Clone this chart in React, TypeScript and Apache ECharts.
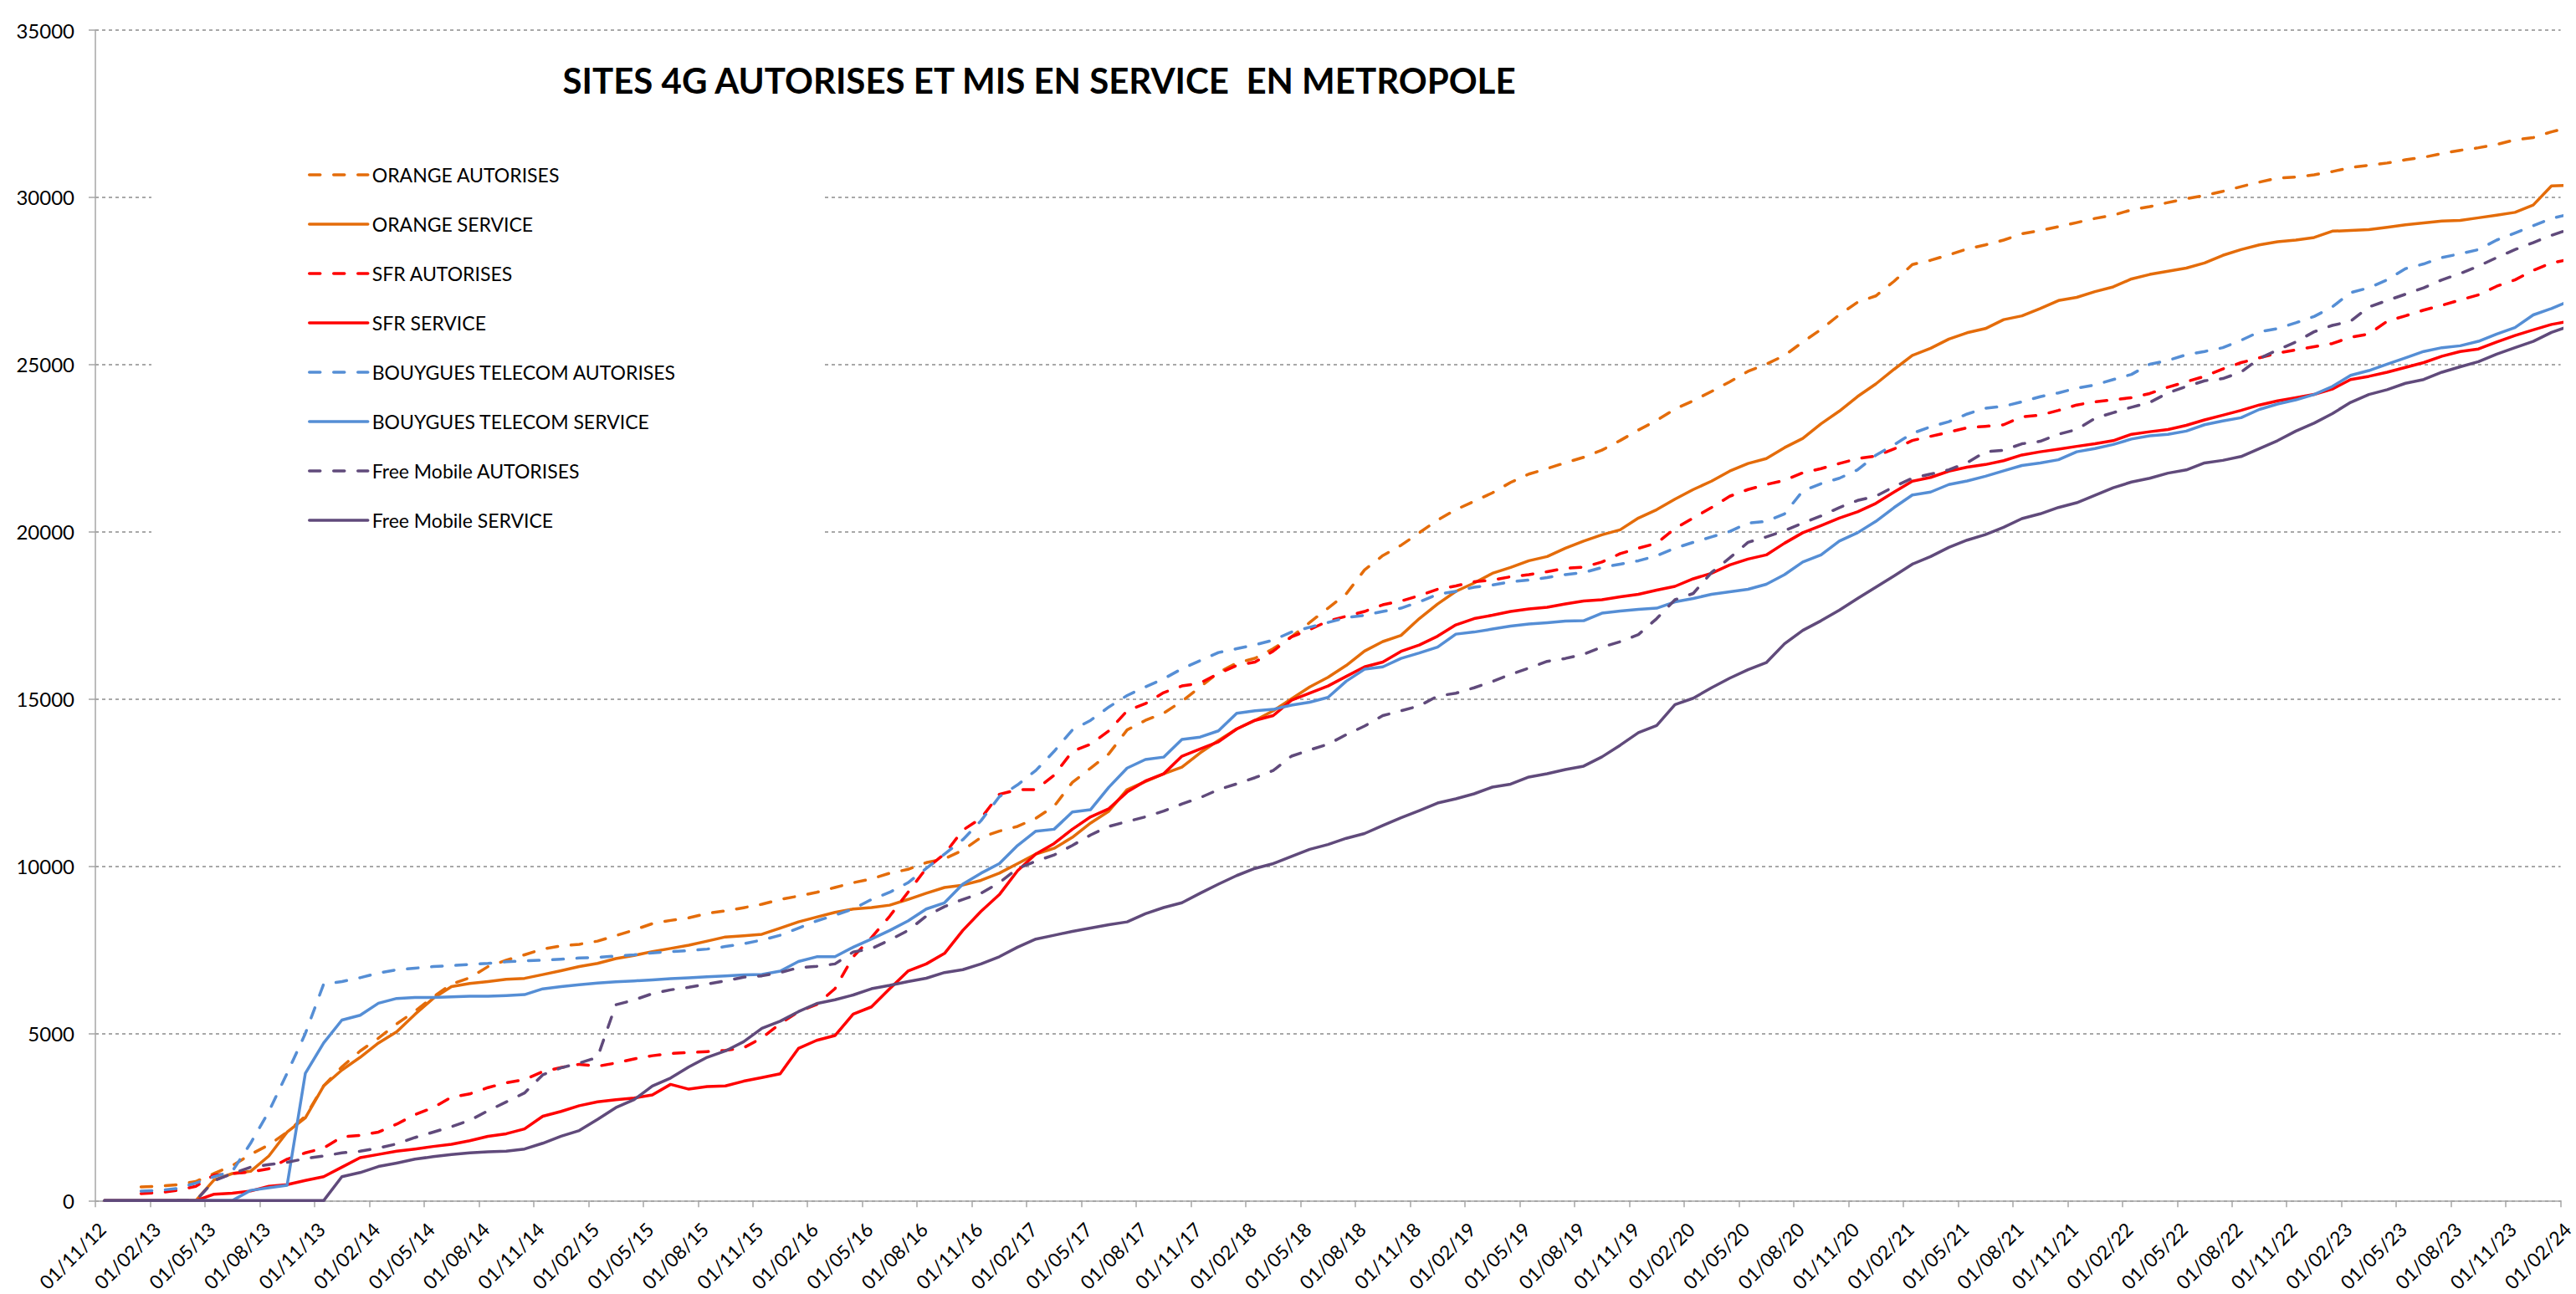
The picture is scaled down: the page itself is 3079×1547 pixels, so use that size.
import React, { useEffect, useRef } from "react";
import * as echarts from "echarts";

const TITLE = "SITES 4G AUTORISES ET MIS EN SERVICE  EN METROPOLE";

const tickLabels = [
  "01/11/12", "01/02/13", "01/05/13", "01/08/13", "01/11/13", "01/02/14", "01/05/14", "01/08/14",
  "01/11/14", "01/02/15", "01/05/15", "01/08/15", "01/11/15", "01/02/16", "01/05/16", "01/08/16",
  "01/11/16", "01/02/17", "01/05/17", "01/08/17", "01/11/17", "01/02/18", "01/05/18", "01/08/18",
  "01/11/18", "01/02/19", "01/05/19", "01/08/19", "01/11/19", "01/02/20", "01/05/20", "01/08/20",
  "01/11/20", "01/02/21", "01/05/21", "01/08/21", "01/11/21", "01/02/22", "01/05/22", "01/08/22",
  "01/11/22", "01/02/23", "01/05/23", "01/08/23", "01/11/23", "01/02/24",
];

// monthly values, one per month starting November 2012
const orangeAutorises = [
  null, null, 409, 428, 476, 571, 809, 1047, 1380, 1666, 2047, 2523, 3427, 3998, 4474, 4855, 5284, 5664, 6093, 6474, 6664, 6997, 7188, 7349, 7521, 7616, 7664, 7759, 7921, 8092, 8282, 8378, 8454, 8587, 8663, 8758,
  8862, 9005, 9105, 9219, 9362, 9505, 9619, 9790, 9905, 10105, 10219, 10476, 10861, 11047, 11190, 11433, 11790, 12504, 12932, 13360, 14074, 14360, 14574, 14931, 15360, 15788, 16074, 16216, 16502, 16859, 17287, 17716, 18144, 18858, 19287,
  19595, 19971, 20347, 20660, 20911, 21162, 21475, 21725, 21888, 22064, 22227, 22440, 22728, 23041, 23329, 23668, 23918, 24195, 24483, 24796, 25009, 25272, 25673, 26049, 26488, 26864, 27052, 27490, 27991, 28117, 28280, 28455,
  28579, 28722, 28912, 29007, 29122, 29245, 29369, 29464, 29626, 29721, 29845, 29959, 30055, 30178, 30321, 30454, 30578, 30607, 30673, 30769, 30892, 30959, 31026, 31121, 31197, 31311, 31406, 31483, 31578, 31721, 31787, 31959, 32100,
];
const orangeService = [
  0, 0, 0, 0, 0, 0, 619, 809, 876, 1333, 2047, 2475, 3427, 3903, 4284, 4712, 5046, 5569, 6045, 6397, 6493, 6550, 6616, 6645, 6759, 6873, 6997, 7092, 7235, 7330, 7445, 7540, 7635, 7759, 7883, 7920,
  7963, 8148, 8334, 8477, 8619, 8719, 8762, 8834, 9005, 9191, 9362, 9433, 9576, 9790, 10076, 10362, 10533, 10861, 11290, 11647, 12289, 12532, 12761, 12961, 13389, 13760, 14103, 14360, 14646, 15003, 15360, 15645, 16002, 16431, 16716,
  16901, 17402, 17840, 18217, 18467, 18756, 18931, 19132, 19257, 19508, 19720, 19908, 20059, 20410, 20660, 20974, 21262, 21513, 21813, 22039, 22189, 22515, 22791, 23229, 23606, 24044, 24420, 24858, 25272, 25485, 25761, 25950,
  26075, 26342, 26456, 26675, 26913, 27008, 27180, 27322, 27560, 27694, 27789, 27884, 28036, 28265, 28436, 28579, 28674, 28722, 28798, 28988, 29007, 29036, 29103, 29179, 29236, 29293, 29312, 29388, 29464, 29550, 29769, 30340, 30360,
];
const sfrAutorises = [
  null, null, 209, 238, 305, 428, 762, 809, 857, 952, 1238, 1428, 1571, 1904, 1952, 2047, 2285, 2570, 2780, 3094, 3189, 3380, 3522, 3618, 3856, 3979, 4075, 4017, 4113, 4236, 4332, 4398, 4427, 4455, 4493, 4570,
  4864, 5292, 5649, 5863, 6335, 7291, 7863, 8505, 9219, 9933, 10362, 11076, 11433, 12147, 12289, 12289, 12718, 13432, 13646, 14046, 14646, 14860, 15188, 15388, 15474, 15759, 16002, 16102, 16431, 16859, 17073, 17330, 17473, 17616, 17816,
  17928, 18091, 18279, 18379, 18505, 18555, 18655, 18718, 18806, 18906, 18943, 19094, 19344, 19508, 19658, 20096, 20410, 20723, 21062, 21262, 21412, 21537, 21763, 21888, 22039, 22189, 22264, 22477, 22728, 22853, 22978, 23110,
  23153, 23200, 23438, 23486, 23629, 23790, 23886, 23943, 24009, 24133, 24324, 24485, 24647, 24866, 25057, 25199, 25342, 25437, 25533, 25628, 25818, 25913, 26294, 26456, 26627, 26770, 26932, 27084, 27341, 27532, 27817, 28036, 28150,
];
const sfrService = [
  0, 0, 0, 0, 0, 0, 190, 219, 286, 428, 476, 600, 714, 1000, 1285, 1380, 1476, 1542, 1618, 1685, 1790, 1923, 1999, 2142, 2523, 2666, 2837, 2951, 3018, 3065, 3161, 3475, 3332, 3408, 3427, 3570,
  3679, 3793, 4550, 4792, 4935, 5578, 5792, 6335, 6863, 7077, 7391, 8077, 8648, 9148, 9862, 10362, 10676, 11104, 11475, 11718, 12218, 12546, 12761, 13289, 13503, 13717, 14103, 14360, 14503, 14960, 15174, 15388, 15674, 15959, 16102,
  16424, 16612, 16876, 17214, 17402, 17502, 17615, 17690, 17741, 17840, 17928, 17966, 18053, 18129, 18254, 18367, 18593, 18756, 19006, 19182, 19307, 19658, 19971, 20184, 20410, 20598, 20848, 21187, 21513, 21625, 21813, 21930,
  22010, 22124, 22296, 22391, 22467, 22553, 22629, 22724, 22915, 22991, 23057, 23181, 23343, 23486, 23629, 23790, 23914, 24009, 24105, 24266, 24552, 24647, 24771, 24914, 25057, 25247, 25390, 25466, 25675, 25866, 26037, 26199, 26300,
];
const bouyguesAutorises = [
  null, null, 286, 305, 362, 524, 714, 876, 1714, 2666, 3808, 4998, 6474, 6550, 6664, 6807, 6902, 6950, 6997, 7026, 7064, 7092, 7140, 7169, 7188, 7216, 7254, 7273, 7311, 7349, 7407, 7445, 7473, 7521, 7597, 7680,
  7791, 7934, 8148, 8362, 8534, 8719, 9005, 9219, 9505, 9933, 10362, 10790, 11361, 12075, 12432, 12861, 13432, 14074, 14360, 14760, 15103, 15360, 15602, 15902, 16145, 16388, 16502, 16616, 16759, 17002, 17145, 17287, 17430, 17502, 17616,
  17715, 17903, 18129, 18217, 18342, 18405, 18505, 18555, 18630, 18718, 18780, 18931, 19031, 19132, 19282, 19508, 19683, 19846, 20009, 20259, 20309, 20535, 21224, 21437, 21600, 21851, 22289, 22603, 22941, 23141, 23292, 23520,
  23695, 23752, 23886, 24038, 24152, 24295, 24390, 24552, 24704, 25009, 25123, 25295, 25390, 25504, 25723, 25980, 26075, 26247, 26437, 26723, 27151, 27294, 27532, 27865, 28008, 28198, 28312, 28436, 28722, 28931, 29150, 29369, 29500,
];
const bouyguesService = [
  0, 0, 0, 0, 0, 0, 0, 0, 305, 381, 457, 3808, 4712, 5398, 5541, 5902, 6045, 6074, 6074, 6093, 6112, 6112, 6131, 6159, 6331, 6397, 6455, 6502, 6540, 6569, 6597, 6635, 6664, 6693, 6720, 6750,
  6763, 6863, 7149, 7291, 7291, 7577, 7820, 8077, 8362, 8719, 8905, 9462, 9790, 10076, 10619, 11047, 11104, 11618, 11690, 12361, 12932, 13189, 13261, 13789, 13860, 14046, 14574, 14646, 14688, 14817, 14903, 15045, 15531, 15888, 15959,
  16212, 16374, 16550, 16938, 17001, 17089, 17177, 17239, 17277, 17327, 17339, 17565, 17627, 17678, 17715, 17903, 18003, 18129, 18204, 18279, 18430, 18718, 19094, 19307, 19720, 19971, 20309, 20723, 21099, 21187, 21412, 21520,
  21658, 21820, 21982, 22058, 22153, 22391, 22486, 22610, 22772, 22867, 22915, 23010, 23200, 23314, 23410, 23657, 23819, 23943, 24105, 24343, 24676, 24819, 25009, 25199, 25390, 25504, 25561, 25694, 25913, 26104, 26484, 26675, 26900,
];
const freeAutorises = [
  null, null, null, null, 0, 0, 590, 809, 1000, 1076, 1142, 1257, 1333, 1428, 1476, 1571, 1695, 1885, 2047, 2209, 2399, 2685, 2951, 3218, 3760, 3970, 4113, 4284, 5855, 5998, 6188, 6302, 6378, 6474, 6569, 6680,
  6720, 6820, 6963, 7006, 7077, 7434, 7534, 7791, 8077, 8505, 8791, 9005, 9191, 9505, 9933, 10147, 10333, 10619, 10933, 11190, 11333, 11475, 11647, 11861, 12047, 12289, 12461, 12646, 12861, 13289, 13475, 13646, 13932, 14189, 14503,
  14645, 14795, 15084, 15172, 15334, 15522, 15735, 15923, 16124, 16212, 16337, 16550, 16712, 16926, 17402, 17966, 18154, 18780, 19219, 19683, 19846, 20034, 20259, 20472, 20723, 20936, 21062, 21349, 21600, 21725, 21851, 22064,
  22391, 22439, 22629, 22705, 22915, 23057, 23391, 23562, 23724, 23867, 24152, 24343, 24514, 24581, 24771, 25180, 25437, 25675, 25980, 26170, 26294, 26723, 26913, 27103, 27294, 27532, 27722, 27941, 28198, 28436, 28646, 28864, 29050,
];
const freeService = [
  0, 0, 0, 0, 0, 0, 0, 0, 0, 0, 0, 0, 0, 714, 838, 1019, 1123, 1238, 1314, 1380, 1428, 1457, 1476, 1542, 1714, 1923, 2094, 2428, 2780, 3018, 3427, 3665, 3998, 4284, 4474, 4750,
  5149, 5364, 5649, 5892, 6006, 6149, 6335, 6435, 6549, 6649, 6820, 6906, 7077, 7291, 7577, 7820, 7934, 8048, 8148, 8248, 8334, 8577, 8762, 8905, 9191, 9462, 9719, 9933, 10076, 10290, 10504, 10647, 10833, 10976, 11218,
  11449, 11662, 11888, 12013, 12164, 12364, 12452, 12665, 12765, 12890, 12991, 13267, 13617, 13993, 14206, 14833, 15021, 15334, 15622, 15873, 16086, 16650, 17051, 17339, 17652, 18003, 18342, 18680, 19031, 19257, 19532, 19750,
  19916, 20135, 20392, 20535, 20725, 20868, 21087, 21315, 21487, 21601, 21753, 21848, 22058, 22134, 22248, 22486, 22724, 23010, 23248, 23533, 23867, 24105, 24247, 24438, 24552, 24771, 24933, 25085, 25313, 25504, 25694, 25961, 26150,
];

const seriesNames = [
  "ORANGE AUTORISES",
  "ORANGE SERVICE",
  "SFR AUTORISES",
  "SFR SERVICE",
  "BOUYGUES TELECOM AUTORISES",
  "BOUYGUES TELECOM SERVICE",
  "Free Mobile AUTORISES",
  "Free Mobile SERVICE",
];
const seriesValues = [
  orangeAutorises, orangeService, sfrAutorises, sfrService,
  bouyguesAutorises, bouyguesService, freeAutorises, freeService,
];
const seriesColors = ["#E46C0A", "#E46C0A", "#FF0000", "#FF0000", "#558ED5", "#558ED5", "#604A7B", "#604A7B"];
const seriesDashed = [true, false, true, false, true, false, true, false];

const FONT = "Lato, 'Open Sans', 'DejaVu Sans', sans-serif";
const AXIS_GREY = "#A6A6A6";

export default function App() {
  const ref = useRef<HTMLDivElement>(null);

  useEffect(() => {
    if (!ref.current) return;
    const chart = echarts.init(ref.current, undefined, { renderer: "svg" });

    const series = seriesNames.map((name, s) => ({
      name,
      type: "line",
      symbol: "none",
      showSymbol: false,
      clip: true,
      color: seriesColors[s],
      lineStyle: {
        color: seriesColors[s],
        width: 3.5,
        type: seriesDashed[s] ? [13, 16] : "solid",
        cap: "round",
        join: "round",
      },
      data: seriesValues[s]
        .map((v, i) => [i + 0.5, v])
        .filter((p) => p[1] !== null),
    }));

    const option = {
      animation: false,
      backgroundColor: "#ffffff",
      title: {
        text: TITLE,
        left: 1237,
        top: 70,
        textAlign: "center",
        textStyle: { fontFamily: FONT, fontWeight: "bold", fontSize: 42, color: "#000" },
      },
      legend: {
        orient: "vertical",
        left: 363,
        top: 189,
        itemWidth: 70,
        itemHeight: 14,
        itemGap: 29,
        selectedMode: false,
        z: 5,
        itemStyle: { opacity: 0, borderWidth: 0 },
        lineStyle: { width: 3.5, cap: "round" },
        textStyle: { fontFamily: FONT, fontSize: 23, color: "#000", lineHeight: 30 },
        data: seriesNames,
      },
      graphic: [
        {
          type: "rect",
          z: 1,
          shape: { x: 181, y: 160, width: 801, height: 520 },
          style: { fill: "#ffffff" },
        },
      ],
      grid: { left: 114, right: 0, top: 36, bottom: 104 },
      xAxis: {
        type: "value",
        min: 0,
        max: 135,
        interval: 3,
        axisLine: { show: true, lineStyle: { color: AXIS_GREY, width: 1.5 } },
        axisTick: { show: true, length: 8, lineStyle: { color: AXIS_GREY, width: 1.5 } },
        splitLine: { show: false },
        axisLabel: {
          rotate: 45,
          margin: 22,
          align: "right",
          verticalAlign: "top",
          fontFamily: FONT,
          fontSize: 23,
          color: "#000",
          formatter: (v: number) => tickLabels[Math.round(v / 3)] ?? "",
        },
      },
      yAxis: {
        type: "value",
        min: 0,
        max: 35000,
        interval: 5000,
        axisLine: { show: true, lineStyle: { color: AXIS_GREY, width: 1.5 } },
        axisTick: { show: true, length: 8, lineStyle: { color: AXIS_GREY, width: 1.5 } },
        splitLine: { show: true, lineStyle: { color: "#8C8C8C", width: 1.5, type: [4, 4] } },
        axisLabel: {
          margin: 25,
          fontFamily: FONT,
          fontSize: 24,
          color: "#000",
          formatter: (v: number) => String(v),
        },
      },
      series,
    };

    chart.setOption(option as any);
    return () => chart.dispose();
  }, []);

  return (
    <div
      ref={ref}
      style={{ position: "fixed", left: 0, top: 0, width: 3079, height: 1547, background: "#fff" }}
    />
  );
}
